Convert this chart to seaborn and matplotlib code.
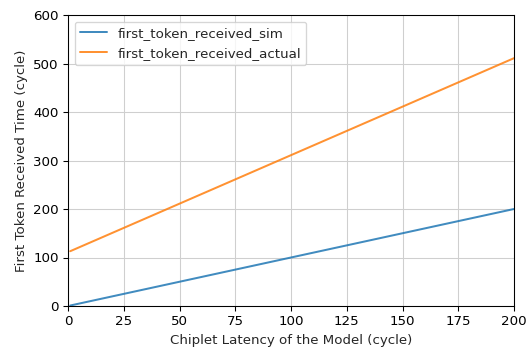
import matplotlib
matplotlib.use("Agg")
import matplotlib.pyplot as plt
import seaborn as sns
import pandas as pd

# Chiplet latency sweep (cycles) and first-token arrival times
latency = [1, 50, 100, 150, 200]
first_token_received_sim = [1, 50, 100, 150, 200]
first_token_received_actual = [113, 211, 311, 411, 511]

df = pd.DataFrame({
    "latency": latency * 2,
    "time": first_token_received_sim + first_token_received_actual,
    "series": ["first_token_received_sim"] * len(latency)
              + ["first_token_received_actual"] * len(latency),
})

sns.set_style("ticks")
plt.rcParams["font.family"] = ["DejaVu Sans"]
plt.rcParams["font.size"] = 10

DPI = 96
fig = plt.figure(figsize=(526 / DPI, 347 / DPI), dpi=DPI)
ax = fig.add_axes([68 / 526, 1 - 306 / 347, (514 - 68) / 526, (306 - 15) / 347])

sns.lineplot(data=df, x="latency", y="time", hue="series",
             palette=["#1f77b4", "#ff7f0e"], linewidth=1.5, alpha=0.85, ax=ax)

ax.set_xlim(0, 200)
ax.set_ylim(0, 600)
ax.set_xticks(range(0, 201, 25))
ax.set_yticks(range(0, 601, 100))
ax.grid(True, color="#cfcfcf", linewidth=0.8)
ax.set_axisbelow(True)
for s in ax.spines.values():
    s.set_visible(True)
    s.set_color("black")
    s.set_linewidth(0.8)
ax.tick_params(labelsize=10, length=3.5, width=0.8, colors="black")
ax.set_xlabel("Chiplet Latency of the Model (cycle)", fontsize=10)
ax.set_ylabel("First Token Received Time (cycle)", fontsize=10)
ax.legend(title=None, loc="upper left", fontsize=10)

fig.savefig("out.png", dpi=DPI)
